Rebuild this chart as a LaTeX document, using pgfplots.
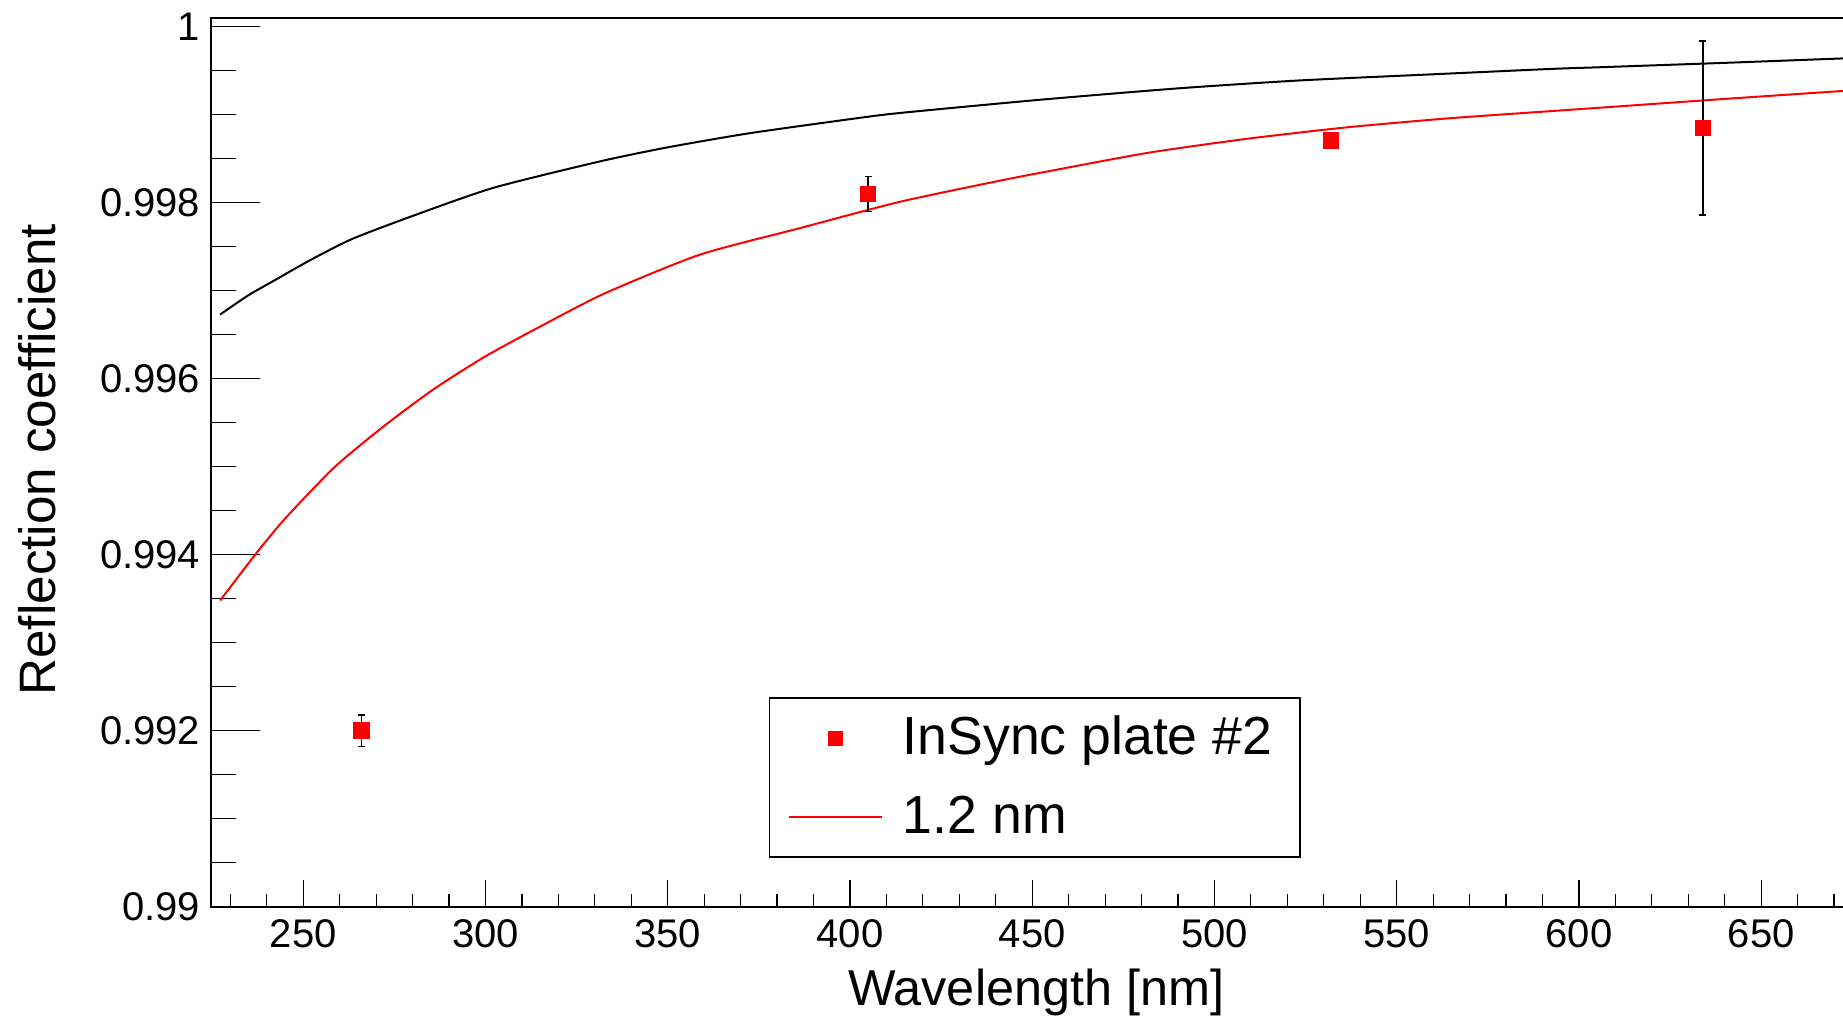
\documentclass[border=0pt]{standalone}
\usepackage{pgfplots}
\pgfplotsset{compat=1.18}
\usepackage{fontspec}
\setmainfont{Liberation Sans}
\begin{document}
\begin{tikzpicture}
\begin{axis}[name=ax, scale only axis, width=412.6pt, height=222.2pt,
  xmin=224.7, xmax=677.5, ymin=0.99, ymax=1.0001,
  xtick={250,300,350,400,450,500,550,600,650},
  xticklabels={250,300,350,400,450,500,550,600,650},
  minor xtick={230,240,...,670},
  ytick={0.99,0.992,0.994,0.996,0.998,1},
  yticklabels={0.99,0.992,0.994,0.996,0.998,1},
  minor y tick num=3,
  scaled y ticks=false, scaled x ticks=false,
  tick align=inside, xtick pos=left, ytick pos=left,
  /pgf/number format/assume math mode=true,
  tick label style={font=\fontsize{10}{12}\selectfont},
  xticklabel style={inner ysep=2.9pt},
  yticklabel style={inner xsep=2.5pt},
  axis line style={line width=0.4pt},
  tick style={black, line width=0.3pt},
  xtick style={/pgfplots/major tick length=6.75pt, /pgfplots/minor tick length=3.3pt},
  ytick style={/pgfplots/major tick length=12.25pt, /pgfplots/minor tick length=6.2pt},
  xlabel={Wavelength [nm]}, ylabel={Reflection coefficient},
  label style={font=\fontsize{12.6}{15}\selectfont},
  ylabel style={font=\fontsize{12.8}{15}\selectfont},
  xlabel style={at={(axis description cs:0.5,0)}, anchor=base, yshift=-24.6pt},
  ylabel style={at={(axis description cs:-0.0943,0.503)}, anchor=base},
  reverse legend,
  legend style={at={(axis description cs:0.3379,0.0551)}, anchor=south west,
    draw=black, line width=0.4pt, font=\fontsize{13.4}{16}\selectfont,
    inner xsep=4.6pt, inner ysep=2.2pt, column sep=2.7pt, row sep=4.1pt,
    nodes={inner xsep=2.25pt, inner ysep=2.3pt}},
  legend cell align=left,
]
% black curve
\addplot[black, line width=0.5pt, smooth, tension=0.4, forget plot] table {
227.2 0.99673
235.0 0.99695
242.2 0.99712
252.0 0.99735
263.5 0.99759
280.0 0.99785
302.2 0.99817
331.4 0.99847
350.0 0.99863
372.4 0.99879
400.0 0.99895
413.6 0.99902
452.0 0.99917
490.0 0.99930
523.3 0.99939
560.0 0.99946
591.8 0.99952
605.6 0.99954
640.0 0.99959
672.2 0.99964
680.0 0.99965
};
% red curve
\addplot[red, line width=0.5pt, smooth, tension=0.4,
  legend image code/.code={\draw[red, line width=0.6pt] (0pt,0pt) -- (23.2pt,0pt);}] table {
227.2 0.99348
236.8 0.99400
245.0 0.99441
258.7 0.99500
272.4 0.99547
286.1 0.99589
299.8 0.99625
314.4 0.99658
332.7 0.99697
358.8 0.99741
386.1 0.99771
413.6 0.99801
441.0 0.99825
454.7 0.99836
482.1 0.99857
509.5 0.99873
537.0 0.99886
564.4 0.99896
591.8 0.99904
605.6 0.99908
640.0 0.99918
672.2 0.99927
680.0 0.99929
};
\addlegendentry{1.2 nm}
% data points
\addplot[only marks, mark=square*, mark size=1.875pt, red,
  legend image code/.code={\draw[red, mark=square*, mark size=1.75pt] plot coordinates {(11.6pt,0pt)};},
  error bars/.cd, y dir=both, y explicit,
  error bar style={black, line width=0.4pt},
  error mark options={rotate=90, mark size=0.9pt, black, line width=0.4pt}]
  table[y error index=2] {
266 0.99200 0.00018
405 0.99810 0.00020
532 0.99871 0.00003
634 0.99885 0.00099
};
\addlegendentry{InSync plate \#2}
\end{axis}
\pgfresetboundingbox
\path[use as bounding box] ([xshift=-52.75pt,yshift=-27.575pt]ax.south west) rectangle ([xshift=408pt,yshift=4.5pt]ax.north west);
\end{tikzpicture}
\end{document}
